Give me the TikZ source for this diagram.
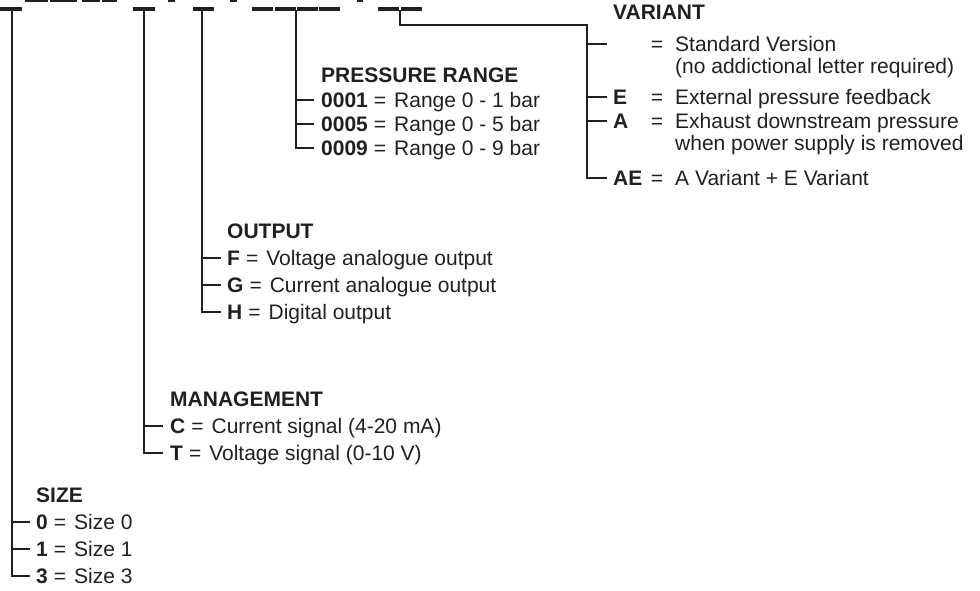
\documentclass[tikz,border=0pt]{standalone}
\usepackage{fontspec}
\setmainfont{Liberation Sans}
\definecolor{ink}{HTML}{231F20}
\newcommand{\dfs}{\fontsize{21}{25}\selectfont}
\newcommand{\eqs}{\hspace{6pt}=\hspace{8pt}}
\begin{document}
\begin{tikzpicture}[x=1pt,y=-1pt,
  ln/.style={line width=1.3pt, draw=ink},
  barseg/.style={line width=3.6pt, draw=ink},
  frag/.style={fill=ink},
  lbl/.style={anchor=base west, inner sep=0pt, font=\dfs, text=ink},
  eqn/.style={anchor=base, inner sep=0pt, font=\dfs, text=ink},
  ttl/.style={anchor=base west, inner sep=0pt, font=\dfs\bfseries, text=ink}]
\useasboundingbox (0,0) rectangle (980,590);
% cropped glyph remnants at the top edge
\fill[frag] (25,0) rectangle (48,2);
\fill[frag] (50,0) rectangle (77,2);
\fill[frag] (82,0) rectangle (100,2);
\fill[frag] (102,0) rectangle (117,2);
\fill[frag] (168,0) rectangle (175,2);
\fill[frag] (230,0) rectangle (237,2);
\fill[frag] (357,0) rectangle (363,2);
% placeholder bars
\draw[barseg] (0,9) -- (22,9);
\draw[barseg] (133,9) -- (155,9);
\draw[barseg] (193,9) -- (214,9);
\draw[barseg] (252,9) -- (273,9);
\draw[barseg] (274.5,9) -- (295.5,9);
\draw[barseg] (296.5,9) -- (317.5,9);
\draw[barseg] (318.5,9) -- (340,9);
\draw[barseg] (378,9) -- (399,9);
\draw[barseg] (400.5,9) -- (422,9);
% stems
\coordinate (bS) at (12,10);
\coordinate (bM) at (144,10);
\coordinate (bO) at (202,10);
\coordinate (bP) at (296,10);
\coordinate (bV) at (400,10);
% ---------- SIZE ----------
\coordinate (s0) at (12,522);
\coordinate (s1) at (12,549);
\coordinate (s3) at (12,576);
\draw[ln] (bS) -- (s1);
\draw[ln] (s1) -- (s3) -- ++(18,0);
\draw[ln] (s0) -- ++(18,0);
\draw[ln] (s1) -- ++(18,0);
\node[ttl] (tS) at (36,502.5) {SIZE};
\node[lbl] (l0) at (36,529.5) {\textbf{0}\eqs Size 0};
\node[lbl] (l1) at (36,556.5) {\textbf{1}\eqs Size 1};
\node[lbl] (l3) at (36,583.5) {\textbf{3}\eqs Size 3};
% ---------- MANAGEMENT ----------
\coordinate (mC) at (144,426);
\coordinate (mT) at (144,453);
\draw[ln] (bM) -- (mT) -- ++(19,0);
\draw[ln] (mC) -- ++(19,0);
\node[ttl] (tM) at (170,406.5) {MANAGEMENT};
\node[lbl] (lC) at (170,433.5) {\textbf{C}\eqs Current signal (4-20 mA)};
\node[lbl] (lT) at (170,460.5) {\textbf{T}\eqs Voltage signal (0-10 V)};
% ---------- OUTPUT ----------
\coordinate (oF) at (202,258);
\coordinate (oG) at (202,285);
\coordinate (oH) at (202,312);
\draw[ln] (bO) -- (oH) -- ++(19,0);
\draw[ln] (oF) -- ++(19,0);
\draw[ln] (oG) -- ++(19,0);
\node[ttl] (tO) at (227,238.5) {OUTPUT};
\node[lbl] (lF) at (227,265.5) {\textbf{F}\eqs Voltage analogue output};
\node[lbl] (lG) at (227,292.5) {\textbf{G}\eqs Current analogue output};
\node[lbl] (lH) at (227,319.5) {\textbf{H}\eqs Digital output};
% ---------- PRESSURE RANGE ----------
\coordinate (p1) at (296,100);
\coordinate (p5) at (296,124);
\coordinate (p9) at (296,148);
\draw[ln] (bP) -- (p9) -- ++(18,0);
\draw[ln] (p1) -- ++(18,0);
\draw[ln] (p5) -- ++(18,0);
\node[ttl] (tP) at (321,82.5) {PRESSURE RANGE};
\node[lbl] (lp1) at (321,107.5) {\textbf{0001}\eqs Range 0 - 1 bar};
\node[lbl] (lp5) at (321,131.5) {\textbf{0005}\eqs Range 0 - 5 bar};
\node[lbl] (lp9) at (321,155.5) {\textbf{0009}\eqs Range 0 - 9 bar};
% ---------- VARIANT ----------
\coordinate (vk) at (400,25);
\coordinate (vc) at (587,25);
\coordinate (vS) at (587,44);
\coordinate (vE) at (587,97);
\coordinate (vA) at (587,121);
\coordinate (vAE) at (587,178);
\draw[ln] (bV) -- (vk) -- (vc) -- (vAE) -- ++(20,0);
\draw[ln] (vS) -- ++(20,0);
\draw[ln] (vE) -- ++(20,0);
\draw[ln] (vA) -- ++(20,0);
\node[ttl] (tV) at (613,19.5) {VARIANT};
\node[eqn] (eS) at (657,51.5) {=};
\node[lbl] (dS) at (675,51.5) {Standard Version};
\node[lbl] (dS2) at (675,73.5) {(no addictional letter required)};
\node[ttl] (kE) at (613,104.5) {E};
\node[eqn] (eE) at (657,104.5) {=};
\node[lbl] (dE) at (675,104.5) {External pressure feedback};
\node[ttl] (kA) at (613,128.5) {A};
\node[eqn] (eA) at (657,128.5) {=};
\node[lbl] (dA) at (675,128.5) {Exhaust downstream pressure};
\node[lbl] (dA2) at (675,150.5) {when power supply is removed};
\node[ttl] (kAE) at (613,185.5) {AE};
\node[eqn] (eAE) at (657,185.5) {=};
\node[lbl] (dAE) at (675,185.5) {A Variant + E Variant};
\end{tikzpicture}
\end{document}
